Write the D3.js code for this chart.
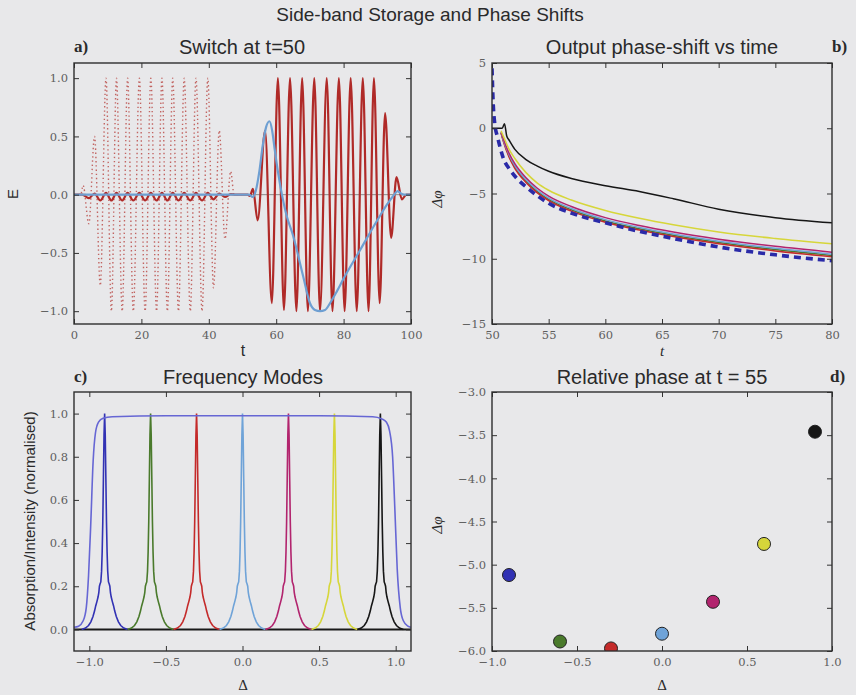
<!DOCTYPE html>
<html><head><meta charset="utf-8">
<script src="https://cdn.jsdelivr.net/npm/d3@7"></script>
<style>
body{margin:0;background:#e9e9eb;}
svg{display:block;}
</style></head><body>
<svg id="c" width="856" height="695"></svg>
<script>
// ---------- DATA ----------
// Panel a: input pulse (dotted), extrema
const aInT = [0, 2.0, 2.7, 4.4, 6.1, 7.8, 9.5, 11.1, 12.6, 14.3, 15.9, 17.6, 19.4, 21.1, 22.8, 24.5, 26.1, 27.7, 29.3, 31.0, 32.7, 34.5, 36.2, 38.0, 39.7, 41.4, 43.1, 44.8, 46.5, 47.5, 50];
const aInE = [0, 0, 0.08, -0.25, 0.5, -0.78, 1.0, -1.0, 1.0, -1.0, 1.0, -1.0, 1.0, -1.0, 1.0, -1.0, 1.0, -1.0, 1.0, -1.0, 1.0, -1.0, 1.0, -1.0, 1.0, -0.8, 0.55, -0.38, 0.2, 0, 0];
// Panel a: output field (solid red)
const aOutT = [0, 2.5, 4.4, 6.1, 7.8, 9.5, 11.1, 12.6, 14.3, 15.9, 17.6, 19.4, 21.1, 22.8, 24.5, 26.1, 27.7, 29.3, 31.0, 32.7, 34.5, 36.2, 38.0, 39.7, 41.4, 43.1, 44.8, 46.5, 48, 51.5, 52.2, 53.1, 54.5, 56.7, 58.7, 60.5, 62.3, 64.1, 66.0, 67.7, 69.4, 71.3, 73.0, 75.0, 76.7, 78.6, 80.3, 82.1, 83.9, 85.7, 87.4, 89.0, 90.7, 92.3, 94.1, 95.7, 97.3, 98.6, 100];
const aOutE = [0, 0, -0.03, 0.01, -0.05, 0.015, -0.05, 0.015, -0.05, 0.015, -0.05, 0.015, -0.05, 0.015, -0.05, 0.015, -0.05, 0.015, -0.05, 0.015, -0.05, 0.015, -0.05, 0.015, -0.04, 0.01, -0.02, 0.005, 0, 0, -0.01, 0.05, -0.22, 0.55, -0.93, 1.0, -0.99, 1.0, -1.0, 1.0, -1.0, 1.0, -1.0, 1.0, -1.0, 1.0, -1.0, 1.0, -1.0, 1.0, -1.0, 1.0, -0.93, 0.7, -0.37, 0.15, -0.04, 0, 0];
// Panel a: slow (blue) field
const aBlueT = [0, 50, 52, 53, 54, 55, 56, 57, 58, 58.8, 59.5, 60.5, 61.7, 63, 65, 68, 70, 71.5, 73, 74.5, 76, 78, 80, 85, 90, 93, 95, 96, 97, 98, 100];
const aBlueE = [0, 0, 0, -0.02, 0.04, 0.2, 0.42, 0.58, 0.63, 0.55, 0.4, 0.2, 0, -0.17, -0.35, -0.7, -0.93, -0.99, -1.0, -0.99, -0.93, -0.83, -0.72, -0.47, -0.22, -0.08, 0.0, 0.03, 0.01, 0, 0];

// Panel b: phase shift vs time
const bBlackT = [50, 50.9, 51.1, 51.3, 51.5, 52, 53, 54, 55, 57, 60, 63, 66, 70, 75, 80];
const bBlackV = [0, 0, 0.35, -0.6, -0.9, -1.6, -2.4, -2.9, -3.3, -3.85, -4.4, -4.85, -5.4, -6.2, -6.85, -7.25];
const bT = [50.8, 51, 51.5, 52, 53, 54, 55, 57, 60, 63, 66, 70, 75, 80];
const bYellowV = [-0.2, -0.6, -1.6, -2.3, -3.4, -4.2, -4.75, -5.5, -6.3, -6.9, -7.4, -7.95, -8.45, -8.85];
const bMagentaV = [-0.3, -0.8, -1.9, -2.7, -3.8, -4.6, -5.2, -6.0, -6.85, -7.45, -7.95, -8.5, -9.05, -9.5];
const bLightV = [-0.3, -0.9, -2.0, -2.85, -3.95, -4.75, -5.35, -6.15, -7.0, -7.6, -8.1, -8.65, -9.2, -9.65];
const bGreenV = [-0.35, -0.95, -2.1, -2.95, -4.05, -4.85, -5.45, -6.25, -7.1, -7.7, -8.2, -8.75, -9.3, -9.75];
const bRedV = [-0.35, -1.0, -2.2, -3.05, -4.15, -4.95, -5.55, -6.35, -7.2, -7.8, -8.3, -8.85, -9.4, -9.85];
const bBlueT = [50, 50.1, 50.25, 50.5, 51, 51.6, 52.2, 53.3, 55, 57, 60, 63, 66, 70, 75, 80];
const bBlueV = [4.6, 2.0, 0.3, -0.7, -2.3, -3.2, -3.85, -4.7, -5.75, -6.5, -7.25, -7.9, -8.45, -9.1, -9.7, -10.15];

// Panel c: frequency modes
const cCenters = [-0.9, -0.6, -0.3, 0.0, 0.3, 0.6, 0.9];
const peakOffset = [0, 0.004, 0.008, 0.012, 0.016, 0.02, 0.025, 0.03, 0.034, 0.038, 0.043, 0.05, 0.058, 0.066, 0.076, 0.09, 0.105, 0.125, 0.15];
const peakValue  = [1.0, 0.9, 0.7, 0.5, 0.36, 0.27, 0.22, 0.21, 0.2, 0.17, 0.15, 0.13, 0.11, 0.085, 0.06, 0.035, 0.018, 0.006, 0.0];
const envD = [-1.1, -1.07, -1.04, -1.02, -1.005, -0.99, -0.975, -0.96, -0.94, -0.91, -0.85, -0.5, 0, 0.5, 0.85, 0.91, 0.94, 0.96, 0.98, 0.995, 1.01, 1.03, 1.05, 1.08, 1.1];
const envV = [0.01, 0.015, 0.04, 0.1, 0.25, 0.5, 0.78, 0.91, 0.96, 0.978, 0.985, 0.99, 0.99, 0.99, 0.985, 0.975, 0.96, 0.92, 0.8, 0.55, 0.28, 0.1, 0.04, 0.015, 0.01];

// Panel d: relative phase at t = 55
const dDelta = [-0.9, -0.6, -0.3, 0.0, 0.3, 0.6, 0.9];
const dPhase = [-5.12, -5.89, -5.97, -5.80, -5.43, -4.76, -3.46];

// tick values
const aXTicks = [0, 20, 40, 60, 80, 100];
const aYTicks = [-1.0, -0.5, 0.0, 0.5, 1.0];
const bXTicks = [50, 55, 60, 65, 70, 75, 80];
const bYTicks = [-15, -10, -5, 0, 5];
const cXTicks = [-1.0, -0.5, 0.0, 0.5, 1.0];
const cYTicks = [0.0, 0.2, 0.4, 0.6, 0.8, 1.0];
const dXTicks = [-1.0, -0.5, 0.0, 0.5, 1.0];
const dYTicks = [-6.0, -5.5, -5.0, -4.5, -4.0, -3.5, -3.0];

const modeColors = ["#3232b4", "#4a7a2c", "#c42a2a", "#6fa3d8", "#b2246e", "#d6d63a", "#161616"];

// ---------- DRAW ----------
const svg = d3.select("#c");
const BG = "#e8e8ea";
svg.append("rect").attr("width", 856).attr("height", 695).attr("fill", BG);

const SANS = "'Liberation Sans', Arial, sans-serif";
const SERIF = "'Liberation Serif', 'DejaVu Serif', serif";
const TICKFONT = "'DejaVu Serif', serif";
let clipId = 0;

function panel(o) {
  const x = d3.scaleLinear().domain(o.xd).range([o.x0, o.x1]);
  const y = d3.scaleLinear().domain(o.yd).range([o.y1, o.y0]);
  const id = "clip" + (clipId++);
  svg.append("clipPath").attr("id", id).append("rect")
    .attr("x", o.x0).attr("y", o.y0).attr("width", o.x1 - o.x0).attr("height", o.y1 - o.y0);
  const g = svg.append("g").attr("clip-path", `url(#${id})`);
  const axG = svg.append("g");
  const styleAxis = sel => {
    sel.attr("font-family", TICKFONT).attr("font-size", 11.5);
    sel.select(".domain").remove();
    sel.selectAll("line").attr("stroke", "#333").attr("stroke-width", 1);
    sel.selectAll("text").style("font-family", TICKFONT).style("font-size", "11.5px").attr("fill", "#5e5e5e");
  };
  axG.append("g").attr("transform", `translate(0,${o.y1})`)
    .call(d3.axisBottom(x).tickValues(o.xt).tickFormat(o.xf).tickSizeInner(-5).tickSizeOuter(0).tickPadding(7)).call(styleAxis);
  axG.append("g").attr("transform", `translate(0,${o.y0})`)
    .call(d3.axisTop(x).tickValues(o.xt).tickFormat("").tickSizeInner(-5).tickSizeOuter(0)).call(styleAxis);
  axG.append("g").attr("transform", `translate(${o.x0},0)`)
    .call(d3.axisLeft(y).tickValues(o.yt).tickFormat(o.yf).tickSizeInner(-5).tickSizeOuter(0).tickPadding(6)).call(styleAxis);
  axG.append("g").attr("transform", `translate(${o.x1},0)`)
    .call(d3.axisRight(y).tickValues(o.yt).tickFormat("").tickSizeInner(-5).tickSizeOuter(0)).call(styleAxis);
  const frame = () => svg.append("rect").attr("x", o.x0).attr("y", o.y0)
    .attr("width", o.x1 - o.x0).attr("height", o.y1 - o.y0)
    .attr("fill", "none").attr("stroke", "#2e2e2e").attr("stroke-width", 1.4);
  return {x, y, g, frame};
}

function txt(x, y, s, opt = {}) {
  const t = svg.append("text").attr("x", x).attr("y", y)
    .attr("font-family", opt.family || SANS).attr("font-size", opt.size || 20)
    .attr("fill", opt.fill || "#2a2a2a").attr("text-anchor", opt.anchor || "middle")
    .attr("font-weight", opt.weight || "normal").attr("font-style", opt.style || "normal");
  if (opt.rotate) t.attr("transform", `rotate(-90,${x},${y})`);
  t.text(s);
  return t;
}

const f1 = d3.format(".1f"), f0 = d3.format("d");
const L = {x0: 74, x1: 411}, R = {x0: 492, x1: 832};
const TOP = {y0: 63, y1: 324}, BOT = {y0: 392, y1: 651};

// ----- Panel a -----
const pa = panel({...L, ...TOP, xd: [0, 100], yd: [-1.11, 1.13], xt: aXTicks, yt: aYTicks, xf: f0, yf: f1});
pa.g.append("line").attr("x1", pa.x(0)).attr("x2", pa.x(100)).attr("y1", pa.y(0)).attr("y2", pa.y(0))
  .attr("stroke", "#8a8a8a").attr("stroke-width", 1);
const lineA = (T, E) => d3.line().x((d, i) => pa.x(T[i])).y((d, i) => pa.y(E[i])).curve(d3.curveMonotoneX)(T);
pa.g.append("path").attr("d", lineA(aInT, aInE)).attr("fill", "none")
  .attr("stroke", "#b8423f").attr("stroke-width", 1.4).attr("stroke-dasharray", "1.4,2.8").attr("opacity", 0.8);
pa.g.append("path").attr("d", lineA(aOutT, aOutE)).attr("fill", "none")
  .attr("stroke", "#b02a28").attr("stroke-width", 2.2);
pa.g.append("path").attr("d", lineA(aBlueT, aBlueE)).attr("fill", "none")
  .attr("stroke", "#6e9fd2").attr("stroke-width", 2.2);
pa.frame();

// ----- Panel b -----
const pb = panel({...R, ...TOP, xd: [50, 80], yd: [-15, 5], xt: bXTicks, yt: bYTicks, xf: f0, yf: f0});
const lineB = (T, V) => d3.line().x((d, i) => pb.x(T[i])).y((d, i) => pb.y(V[i])).curve(d3.curveMonotoneX)(T);
const bSeries = [
  [bT, bGreenV, modeColors[1]],
  [bT, bRedV, modeColors[2]],
  [bT, bLightV, modeColors[3]],
  [bT, bMagentaV, modeColors[4]],
  [bT, bYellowV, modeColors[5]],
  [bBlackT, bBlackV, modeColors[6]]
];
bSeries.forEach(([T, V, c]) => pb.g.append("path").attr("d", lineB(T, V)).attr("fill", "none")
  .attr("stroke", c).attr("stroke-width", 1.5));
pb.g.append("path").attr("d", lineB(bBlueT, bBlueV)).attr("fill", "none")
  .attr("stroke", "#2a2aa8").attr("stroke-width", 3.6).attr("stroke-dasharray", "7,5");
pb.frame();

// ----- Panel c -----
const pc = panel({...L, ...BOT, xd: [-1.1, 1.1], yd: [-0.1, 1.1], xt: cXTicks, yt: cYTicks, xf: f1, yf: f1});
pc.g.append("line").attr("x1", pc.x(-1.1)).attr("x2", pc.x(1.1)).attr("y1", pc.y(0)).attr("y2", pc.y(0))
  .attr("stroke", "#1a1a1a").attr("stroke-width", 2);
cCenters.forEach((c, k) => {
  const offs = peakOffset.slice().reverse().map(o => -o).concat(peakOffset.slice(1));
  const vals = peakValue.slice().reverse().concat(peakValue.slice(1));
  const line = d3.line().x((d, i) => pc.x(c + offs[i])).y((d, i) => pc.y(vals[i]));
  pc.g.append("path").attr("d", line(offs)).attr("fill", "none")
    .attr("stroke", modeColors[k]).attr("stroke-width", 1.6);
});
pc.g.append("path")
  .attr("d", d3.line().x((d, i) => pc.x(envD[i])).y((d, i) => pc.y(envV[i])).curve(d3.curveMonotoneX)(envD))
  .attr("fill", "none").attr("stroke", "#6666d4").attr("stroke-width", 1.6);
pc.frame();

// ----- Panel d -----
const pd = panel({...R, ...BOT, xd: [-1, 1], yd: [-6, -3], xt: dXTicks, yt: dYTicks, xf: f1, yf: f1});
pd.g.selectAll("circle").data(dDelta).join("circle")
  .attr("cx", (d, i) => pd.x(d)).attr("cy", (d, i) => pd.y(dPhase[i])).attr("r", 6.5)
  .attr("fill", (d, i) => modeColors[i]).attr("stroke", "#222").attr("stroke-width", 1);
pd.frame();

// ----- Texts -----
txt(430, 21, "Side-band Storage and Phase Shifts", {size: 19});
txt(242, 54, "Switch at t=50");
txt(662, 54, "Output phase-shift vs time");
txt(243, 384, "Frequency Modes");
txt(662, 384, "Relative phase at t = 55");
txt(74, 52, "a)", {family: SERIF, weight: "bold", size: 17, anchor: "start"});
txt(832, 52, "b)", {family: SERIF, weight: "bold", size: 17, anchor: "start"});
txt(74, 382, "c)", {family: SERIF, weight: "bold", size: 17, anchor: "start"});
txt(830, 382, "d)", {family: SERIF, weight: "bold", size: 17, anchor: "start"});

txt(243, 356, "t", {size: 16});
txt(18, 194, "E", {size: 15, rotate: true});
txt(662, 356, "t", {family: SERIF, style: "italic", size: 15});
txt(442, 199, "Δφ", {family: SERIF, style: "italic", size: 15, rotate: true});
txt(35, 521, "Absorption/Intensity (normalised)", {size: 15, rotate: true});
txt(243, 690, "Δ", {family: SERIF, size: 15});
txt(442, 525, "Δφ", {family: SERIF, style: "italic", size: 15, rotate: true});
txt(662, 690, "Δ", {family: SERIF, size: 15});
</script>
</body></html>
